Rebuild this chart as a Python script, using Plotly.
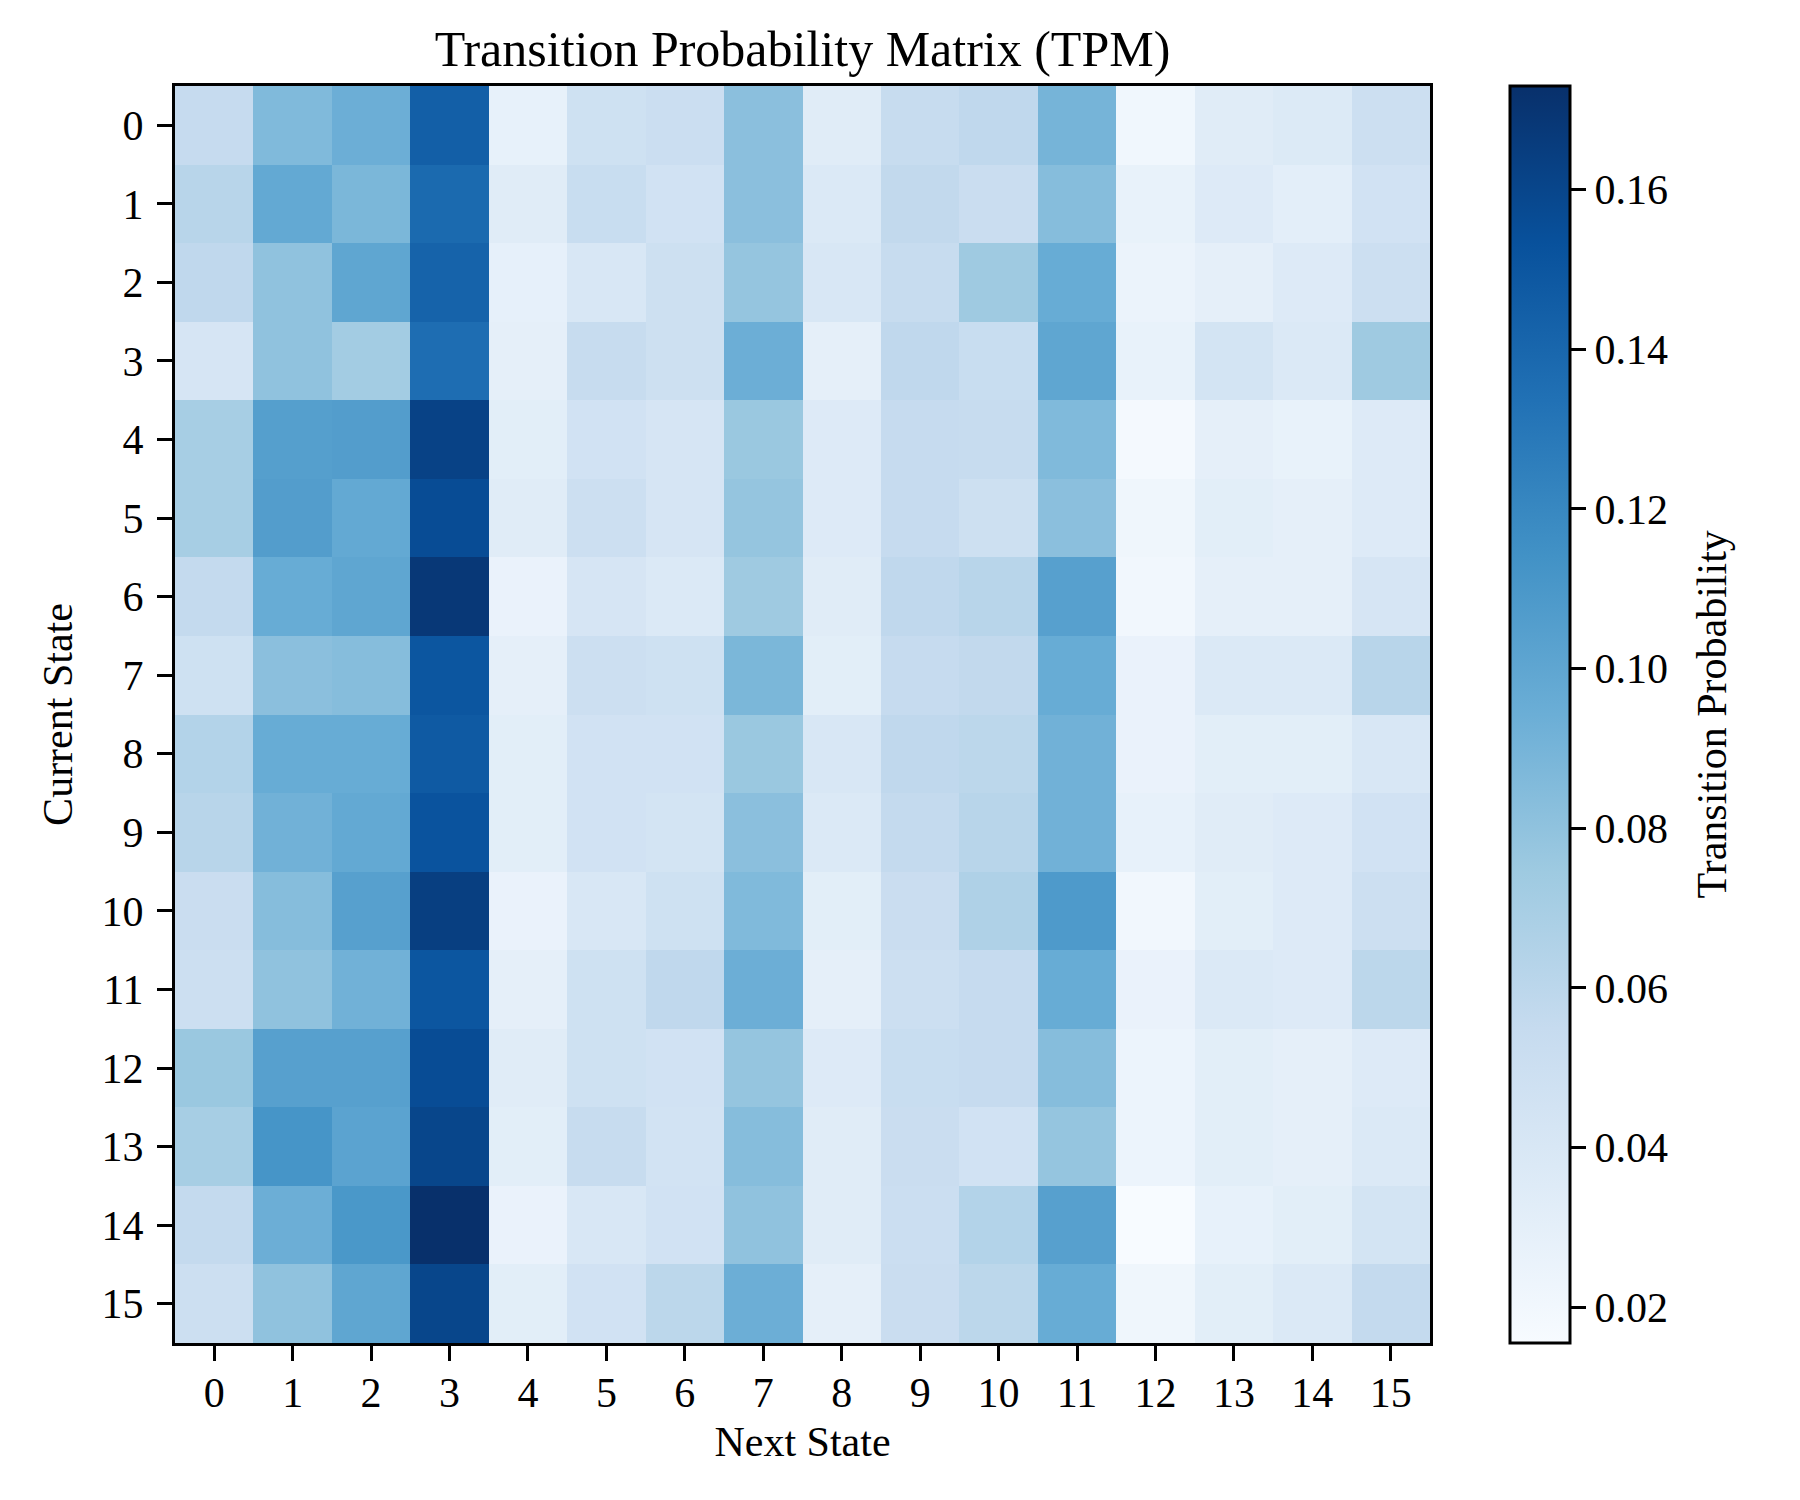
import plotly.graph_objects as go

next_states = list(range(16))
current_states = list(range(16))

row_0 = [0.055, 0.086, 0.094, 0.145, 0.028, 0.048, 0.051, 0.082, 0.034, 0.054, 0.058, 0.090, 0.021, 0.034, 0.037, 0.050]
row_1 = [0.062, 0.098, 0.088, 0.138, 0.034, 0.053, 0.046, 0.082, 0.038, 0.057, 0.052, 0.084, 0.027, 0.036, 0.031, 0.046]
row_2 = [0.058, 0.080, 0.100, 0.142, 0.029, 0.040, 0.049, 0.078, 0.040, 0.054, 0.074, 0.096, 0.025, 0.030, 0.036, 0.050]
row_3 = [0.042, 0.080, 0.072, 0.136, 0.030, 0.054, 0.049, 0.094, 0.030, 0.058, 0.053, 0.100, 0.027, 0.044, 0.038, 0.074]
row_4 = [0.070, 0.105, 0.106, 0.162, 0.032, 0.046, 0.042, 0.076, 0.036, 0.055, 0.054, 0.086, 0.018, 0.030, 0.027, 0.036]
row_5 = [0.070, 0.106, 0.098, 0.156, 0.034, 0.050, 0.042, 0.078, 0.036, 0.055, 0.049, 0.082, 0.022, 0.032, 0.030, 0.036]
row_6 = [0.056, 0.096, 0.100, 0.168, 0.026, 0.042, 0.038, 0.074, 0.034, 0.058, 0.062, 0.104, 0.020, 0.030, 0.030, 0.042]
row_7 = [0.048, 0.082, 0.084, 0.150, 0.030, 0.050, 0.048, 0.088, 0.032, 0.055, 0.057, 0.096, 0.026, 0.038, 0.038, 0.062]
row_8 = [0.064, 0.096, 0.096, 0.148, 0.032, 0.046, 0.046, 0.076, 0.040, 0.058, 0.060, 0.092, 0.026, 0.032, 0.032, 0.040]
row_9 = [0.062, 0.092, 0.098, 0.152, 0.032, 0.046, 0.044, 0.082, 0.038, 0.056, 0.062, 0.092, 0.028, 0.034, 0.036, 0.046]
row_10 = [0.052, 0.084, 0.104, 0.164, 0.026, 0.040, 0.048, 0.086, 0.032, 0.052, 0.066, 0.108, 0.020, 0.032, 0.036, 0.050]
row_11 = [0.050, 0.080, 0.092, 0.150, 0.030, 0.048, 0.058, 0.094, 0.030, 0.050, 0.055, 0.096, 0.026, 0.038, 0.036, 0.060]
row_12 = [0.076, 0.104, 0.104, 0.156, 0.034, 0.048, 0.046, 0.078, 0.036, 0.053, 0.055, 0.084, 0.024, 0.032, 0.030, 0.036]
row_13 = [0.070, 0.112, 0.102, 0.160, 0.032, 0.054, 0.045, 0.084, 0.034, 0.052, 0.046, 0.078, 0.024, 0.032, 0.030, 0.038]
row_14 = [0.056, 0.094, 0.110, 0.173, 0.026, 0.040, 0.046, 0.080, 0.034, 0.051, 0.064, 0.104, 0.0155, 0.028, 0.032, 0.044]
row_15 = [0.050, 0.080, 0.100, 0.160, 0.032, 0.046, 0.060, 0.094, 0.030, 0.052, 0.060, 0.096, 0.022, 0.032, 0.038, 0.056]

tpm = [row_0, row_1, row_2, row_3, row_4, row_5, row_6, row_7,
       row_8, row_9, row_10, row_11, row_12, row_13, row_14, row_15]

colorbar_ticks = [0.02, 0.04, 0.06, 0.08, 0.10, 0.12, 0.14, 0.16]

blues = [
    [0.0, "rgb(247,251,255)"], [0.125, "rgb(222,235,247)"], [0.25, "rgb(198,219,239)"],
    [0.375, "rgb(158,202,225)"], [0.5, "rgb(107,174,214)"], [0.625, "rgb(66,146,198)"],
    [0.75, "rgb(33,113,181)"], [0.875, "rgb(8,81,156)"], [1.0, "rgb(8,48,107)"],
]

FONT = "Liberation Serif, Times New Roman, serif"

fig = go.Figure(go.Heatmap(
    z=tpm, x=next_states, y=current_states,
    colorscale=blues,
    hoverongaps=False,
    colorbar=dict(
        tickvals=colorbar_ticks, tickformat=".2f",
        ticks="outside", ticklen=15, tickwidth=3, tickcolor="black",
        tickfont=dict(family=FONT, size=42, color="black"),
        outlinewidth=3, outlinecolor="black",
        thickness=60, len=1.0, lenmode="fraction",
        x=1.0637, xanchor="left", xpad=0, y=0.5, yanchor="middle", ypad=0,
    ),
))

axis_common = dict(
    showline=True, linewidth=3, linecolor="black", mirror=True,
    ticks="outside", ticklen=15, tickwidth=3, tickcolor="black",
    tickfont=dict(family=FONT, size=42, color="black"),
    showgrid=False, zeroline=False,
)

fig.update_xaxes(title=dict(text="Next State", font=dict(family=FONT, size=42, color="black"), standoff=12),
                 tickvals=next_states, ticktext=[str(v) for v in next_states],
                 range=[-0.5, 15.5], ticklabelstandoff=-4, **axis_common)
fig.update_yaxes(title=dict(text="Current State", font=dict(family=FONT, size=42, color="black"), standoff=16),
                 tickvals=current_states, ticktext=[str(v) for v in current_states],
                 range=[15.5, -0.5], ticklabelstandoff=5, **axis_common)

fig.add_annotation(text="Transition Probability", textangle=-90,
                   xref="paper", yref="paper", x=(1711 - 175) / 1255, y=0.5,
                   xanchor="center", yanchor="middle", showarrow=False,
                   font=dict(family=FONT, size=42, color="black"))

fig.update_layout(
    width=1800, height=1500,
    margin=dict(l=175, r=370, t=86, b=157),
    paper_bgcolor="white", plot_bgcolor="white",
    title=dict(text="Transition Probability Matrix (TPM)", x=(175 + 1430) / 2 / 1800, xanchor="center",
               y=1 - 48 / 1500, yanchor="middle",
               font=dict(family=FONT, size=50, color="black")),
    font=dict(family=FONT, color="black"),
)

fig.write_html("out.html")
